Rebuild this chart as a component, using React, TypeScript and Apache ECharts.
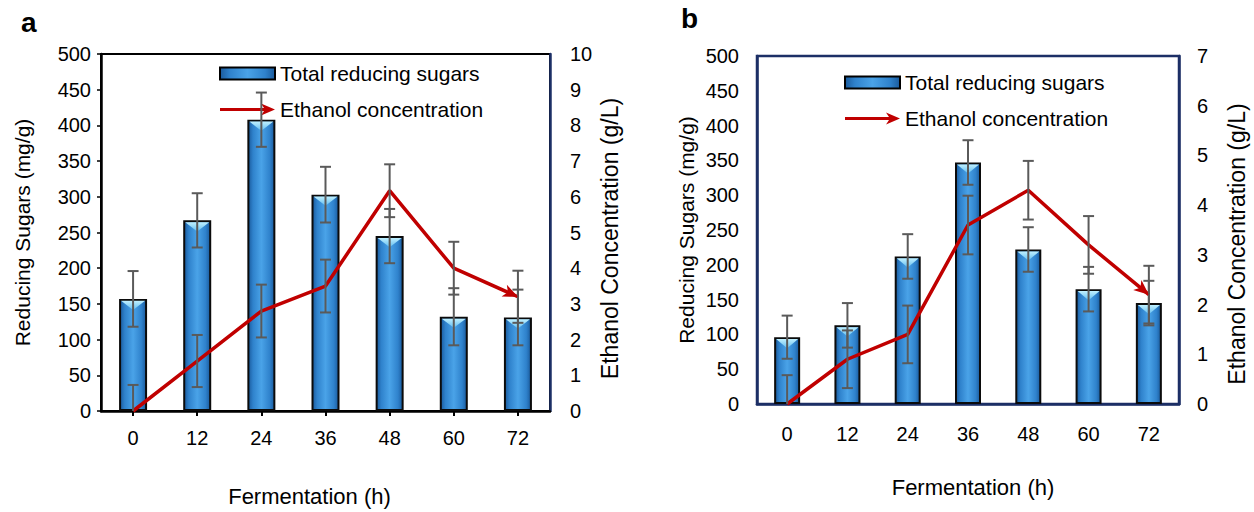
import React, { useEffect, useRef } from 'react';
import * as echarts from 'echarts';

const hours = ['0', '12', '24', '36', '48', '60', '72'];

const sugarsA = [157, 267, 408, 303, 245, 132, 131];
const sugarsErrA = [39, 38, 38, 39, 38, 40, 39];
const ethanolA = [0, 1.4, 2.8, 3.5, 6.17, 4.0, 3.2];
const ethanolErrA = [0.73, 0.73, 0.74, 0.74, 0.74, 0.74, 0.73];

const sugarsB = [96, 113, 212, 347, 222, 165, 145];
const sugarsErrB = [31, 32, 32, 32, 32, 32, 32];
const ethanolB = [0, 0.9, 1.4, 3.6, 4.3, 3.2, 2.2];
const ethanolErrB = [0.58, 0.58, 0.58, 0.59, 0.59, 0.58, 0.58];

const FONT = '"Liberation Sans", Arial, sans-serif';
const RED = '#c00000';
const NAVY = '#1c2f66';
const ERR = '#5a5a5a';

function barFill() {
  return new echarts.graphic.LinearGradient(0, 0, 1, 0, [
    { offset: 0, color: '#1a5a9c' },
    { offset: 0.18, color: '#2f82cc' },
    { offset: 0.5, color: '#4aa3e8' },
    { offset: 0.82, color: '#2f82cc' },
    { offset: 1, color: '#1a5a9c' },
  ]);
}

function topFill() {
  return new echarts.graphic.LinearGradient(0, 0, 0, 1, [
    { offset: 0, color: '#bff0ff' },
    { offset: 1, color: '#62bdf0' },
  ]);
}

function errorBarRender(params: any, api: any) {
  const x = api.value(0);
  const y = api.value(1);
  const e = api.value(2);
  const hi = api.coord([x, y + e]);
  const lo = api.coord([x, y - e]);
  const hw = 5.5;
  const style = { stroke: ERR, lineWidth: 2 };
  return {
    type: 'group',
    children: [
      { type: 'line', shape: { x1: hi[0], y1: hi[1], x2: lo[0], y2: lo[1] }, style },
      { type: 'line', shape: { x1: hi[0] - hw, y1: hi[1], x2: hi[0] + hw, y2: hi[1] }, style },
      { type: 'line', shape: { x1: lo[0] - hw, y1: lo[1], x2: lo[0] + hw, y2: lo[1] }, style },
    ],
  };
}

function arrowRender(values: number[]) {
  return (params: any, api: any) => {
    const n = values.length;
    const tip = api.coord([n - 1, values[n - 1]]);
    const prev = api.coord([n - 2, values[n - 2]]);
    const dx = tip[0] - prev[0];
    const dy = tip[1] - prev[1];
    const len = Math.sqrt(dx * dx + dy * dy) || 1;
    const ux = dx / len;
    const uy = dy / len;
    const nx = -uy;
    const ny = ux;
    const L = 15;
    const W = 6.5;
    const notch = 11;
    const pts = [
      [tip[0], tip[1]],
      [tip[0] - L * ux + W * nx, tip[1] - L * uy + W * ny],
      [tip[0] - notch * ux, tip[1] - notch * uy],
      [tip[0] - L * ux - W * nx, tip[1] - L * uy - W * ny],
    ];
    return { type: 'polygon', shape: { points: pts }, style: { fill: RED } };
  };
}

const arrowIcon = 'path://M0,4.5L44,4.5L41,0L55,6L41,12L44,7.5L0,7.5Z';

function panelSeries(
  idx: number,
  sugars: number[],
  sugarsErr: number[],
  ethanol: number[],
  ethanolErr: number[],
  barWidth: number
) {
  const xi = idx;
  const yl = idx * 2;
  const yr = idx * 2 + 1;
  return [
    {
      name: 'Total reducing sugars',
      type: 'bar',
      xAxisIndex: xi,
      yAxisIndex: yl,
      data: sugars,
      barWidth,
      itemStyle: { color: barFill(), borderColor: '#0b0b0b', borderWidth: 2 },
      z: 2,
    },
    {
      name: 'bar-top-' + idx,
      type: 'pictorialBar',
      xAxisIndex: xi,
      yAxisIndex: yl,
      data: sugars,
      symbol: 'path://M0,0L20,0L10,9Z',
      symbolSize: [barWidth - 4, 9],
      symbolPosition: 'end',
      symbolOffset: [0, 2],
      itemStyle: { color: topFill() },
      z: 3,
      silent: true,
    },
    {
      name: 'sugar-err-' + idx,
      type: 'custom',
      xAxisIndex: xi,
      yAxisIndex: yl,
      data: sugars.map((v, i) => [i, v, sugarsErr[i]]),
      encode: { x: 0, y: 1 },
      renderItem: errorBarRender,
      clip: true,
      z: 4,
      silent: true,
    },
    {
      name: 'Ethanol concentration',
      type: 'line',
      xAxisIndex: xi,
      yAxisIndex: yr,
      data: ethanol,
      symbol: 'none',
      lineStyle: { color: RED, width: 3.5 },
      itemStyle: { color: RED },
      z: 5,
    },
    {
      name: 'eth-err-' + idx,
      type: 'custom',
      xAxisIndex: xi,
      yAxisIndex: yr,
      data: ethanol.map((v, i) => [i, v, ethanolErr[i]]),
      encode: { x: 0, y: 1 },
      renderItem: errorBarRender,
      clip: true,
      z: 6,
      silent: true,
    },
    {
      name: 'eth-arrow-' + idx,
      type: 'custom',
      xAxisIndex: xi,
      yAxisIndex: yr,
      data: [[ethanol.length - 1, ethanol[ethanol.length - 1]]],
      encode: { x: 0, y: 1 },
      renderItem: arrowRender(ethanol),
      clip: false,
      z: 7,
      silent: true,
    },
  ];
}

function legendFor(left: number, top: number) {
  return {
    left,
    top,
    padding: 0,
    orient: 'vertical',
    itemGap: 15,
    itemWidth: 55,
    itemHeight: 12,
    selectedMode: false,
    textStyle: { fontSize: 21, color: '#000', fontFamily: FONT },
    data: [
      {
        name: 'Total reducing sugars',
        icon: 'rect',
        itemStyle: { color: barFill(), borderColor: '#000', borderWidth: 2 },
      },
      {
        name: 'Ethanol concentration',
        icon: arrowIcon,
        itemStyle: { color: RED, borderWidth: 0 },
      },
    ],
  };
}

const tickText = { fontSize: 20, color: '#000', fontFamily: FONT };

export default function App() {
  const ref = useRef<HTMLDivElement>(null);

  useEffect(() => {
    document.body.style.margin = '0';
    if (!ref.current) return;
    const chart = echarts.init(ref.current, undefined, { renderer: 'svg' });
    const option: any = {
      animation: false,
      backgroundColor: '#ffffff',
      textStyle: { fontFamily: FONT },
      grid: [
        { left: 101, top: 54, width: 449, height: 364, show: true, borderColor: '#000', borderWidth: 2, backgroundColor: 'transparent' },
        { left: 757, top: 56, width: 422, height: 348, show: true, borderColor: NAVY, borderWidth: 2.5, backgroundColor: 'transparent' },
      ],
      legend: [legendFor(219, 63), legendFor(844, 72)],
      xAxis: [
        {
          type: 'category',
          gridIndex: 0,
          data: hours,
          axisLine: { lineStyle: { color: '#000', width: 2.5 } },
          axisTick: { show: true, alignWithLabel: true, length: 5, lineStyle: { color: '#000', width: 2 } },
          axisLabel: { ...tickText, margin: 17 },
          name: 'Fermentation (h)',
          nameLocation: 'middle',
          nameGap: 74,
          nameTextStyle: { fontSize: 22, color: '#000', fontFamily: FONT, padding: [0, 32, 0, 0] },
        },
        {
          type: 'category',
          gridIndex: 1,
          data: hours,
          axisLine: { lineStyle: { color: NAVY, width: 2.5 } },
          axisTick: { show: false },
          axisLabel: { ...tickText, margin: 20 },
          name: 'Fermentation (h)',
          nameLocation: 'middle',
          nameGap: 72,
          nameTextStyle: { fontSize: 22, color: '#000', fontFamily: FONT, padding: [0, 0, 0, 10] },
        },
      ],
      yAxis: [
        {
          type: 'value',
          gridIndex: 0,
          position: 'left',
          min: 0,
          max: 500,
          interval: 50,
          splitLine: { show: false },
          axisLine: { show: true, lineStyle: { color: '#000', width: 2.5 } },
          axisTick: { show: true, length: 4, lineStyle: { color: '#000', width: 1.5 } },
          axisLabel: { ...tickText, margin: 10 },
          name: 'Reducing Sugars (mg/g)',
          nameLocation: 'middle',
          nameRotate: 90,
          nameGap: 68,
          nameTextStyle: { fontSize: 21, color: '#000', fontFamily: FONT },
        },
        {
          type: 'value',
          gridIndex: 0,
          position: 'right',
          min: 0,
          max: 10,
          interval: 1,
          splitLine: { show: false },
          axisLine: { show: true, lineStyle: { color: NAVY, width: 2.5 } },
          axisTick: { show: false },
          axisLabel: { ...tickText, margin: 20 },
          name: 'Ethanol Concentration (g/L)',
          nameLocation: 'middle',
          nameRotate: 90,
          nameGap: 48,
          nameTextStyle: { fontSize: 23, color: '#000', fontFamily: FONT, padding: [0, 12, 0, 0] },
        },
        {
          type: 'value',
          gridIndex: 1,
          position: 'left',
          min: 0,
          max: 500,
          interval: 50,
          splitLine: { show: false },
          axisLine: { show: true, lineStyle: { color: NAVY, width: 2.5 } },
          axisTick: { show: false },
          axisLabel: { ...tickText, margin: 18 },
          name: 'Reducing Sugars (mg/g)',
          nameLocation: 'middle',
          nameRotate: 90,
          nameGap: 60,
          nameTextStyle: { fontSize: 21, color: '#000', fontFamily: FONT },
        },
        {
          type: 'value',
          gridIndex: 1,
          position: 'right',
          min: 0,
          max: 7,
          interval: 1,
          splitLine: { show: false },
          axisLine: { show: true, lineStyle: { color: NAVY, width: 2.5 } },
          axisTick: { show: false },
          axisLabel: { ...tickText, margin: 18 },
          name: 'Ethanol Concentration (g/L)',
          nameLocation: 'middle',
          nameRotate: 90,
          nameGap: 46,
          nameTextStyle: { fontSize: 23, color: '#000', fontFamily: FONT, padding: [0, 28, 0, 0] },
        },
      ],
      graphic: [
        { type: 'text', left: 21, top: 8, style: { text: 'a', fontSize: 28, fontWeight: 'bold', fill: '#000', fontFamily: FONT } },
        { type: 'text', left: 681, top: 4, style: { text: 'b', fontSize: 28, fontWeight: 'bold', fill: '#000', fontFamily: FONT } },
      ],
      series: [
        ...panelSeries(0, sugarsA, sugarsErrA, ethanolA, ethanolErrA, 28),
        ...panelSeries(1, sugarsB, sugarsErrB, ethanolB, ethanolErrB, 26),
      ],
    };
    chart.setOption(option);
    return () => {
      chart.dispose();
    };
  }, []);

  return <div ref={ref} style={{ width: 1254, height: 512 }} />;
}
